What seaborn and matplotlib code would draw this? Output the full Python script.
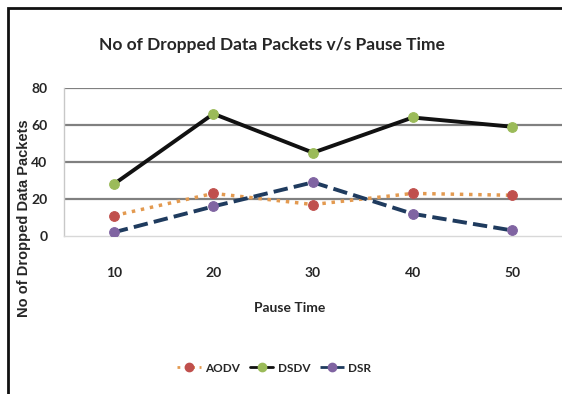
import matplotlib
matplotlib.use("Agg")
import matplotlib.pyplot as plt
import seaborn as sns
import pandas as pd
from matplotlib.patches import Rectangle
from matplotlib.lines import Line2D

pause_time = ["10", "20", "30", "40", "50"]
aodv = [11, 23, 17, 23, 22]
dsdv = [28, 66, 45, 64, 59]
dsr = [2, 16, 29, 12, 3]
y_ticks = [0, 20, 40, 60, 80]

sns.set_theme(style="white")
plt.rcParams['font.family'] = ['Lato', 'DejaVu Sans']

fig = plt.figure(figsize=(5.62, 3.94), dpi=100)
ax = fig.add_axes([0.114, 0.401, 0.886, 0.376])

df = pd.DataFrame({"Pause Time": pause_time, "AODV": aodv, "DSDV": dsdv, "DSR": dsr})

series = [
    ("AODV", "#E39A50", ":", 2.5, "#C0504D"),
    ("DSDV", "#111111", "-", 2.8, "#9BBB59"),
    ("DSR", "#1F3B5E", "--", 2.8, "#8064A2"),
]
handles = []
for name, lc, ls, lw, mc in series:
    sns.lineplot(data=df, x="Pause Time", y=name, ax=ax, color=lc, linestyle=ls,
                 linewidth=lw, marker="o", markersize=7, markerfacecolor=mc,
                 markeredgecolor=mc, sort=False, legend=False, zorder=3)
    handles.append(Line2D([], [], color=lc, linestyle=ls, linewidth=2,
                          marker="o", markersize=6, markerfacecolor=mc, markeredgecolor=mc))

ax.set_xlim(-0.5, 4.5)
ax.set_ylim(0, 80)
ax.set_yticks(y_ticks)
ax.set_yticklabels([str(v) for v in y_ticks], fontsize=10, fontweight="bold")
ax.set_xticks(range(len(pause_time)))
ax.set_xticklabels(pause_time, fontsize=10, fontweight="bold")
ax.tick_params(axis="x", pad=22, length=0)
ax.tick_params(axis="y", pad=12, length=0)
ax.set_xlabel("")
ax.set_ylabel("")
for v in y_ticks[1:]:
    ax.axhline(v, color="#808080", linewidth=1.6, zorder=1)
for s in ["top", "right"]:
    ax.spines[s].set_visible(False)
ax.spines["left"].set_color("#C8C8C8")
ax.spines["bottom"].set_color("#D8D8D8")
ax.spines["left"].set_linewidth(1.0)
ax.spines["bottom"].set_linewidth(1.0)

fig.text(0.484, 0.886, "No of Dropped Data Packets v/s Pause Time", ha="center", va="center",
         fontsize=12.5, fontweight="bold")
fig.text(0.516, 1 - 308 / 394, "Pause Time", ha="center", va="center",
         fontsize=10, fontweight="bold")
fig.text(0.043, 1 - 218 / 394, "No of Dropped Data Packets", ha="center", va="center",
         rotation=90, fontsize=10.5, fontweight="bold", family=["Liberation Sans", "DejaVu Sans"])

fig.legend(handles, ["AODV", "DSDV", "DSR"], loc="center", bbox_to_anchor=(0.488, 1 - 368 / 394),
           ncol=3, frameon=False, prop={"weight": "bold", "size": 8.5},
           handlelength=2.0, columnspacing=0.8, handletextpad=0.4)

fig.patches.append(Rectangle((8 / 562, -0.02), 1.1, 1 - 8 / 394 + 0.02, transform=fig.transFigure,
                             fill=False, edgecolor="#111111", linewidth=2, zorder=10))

fig.savefig("out.png", dpi=100)
